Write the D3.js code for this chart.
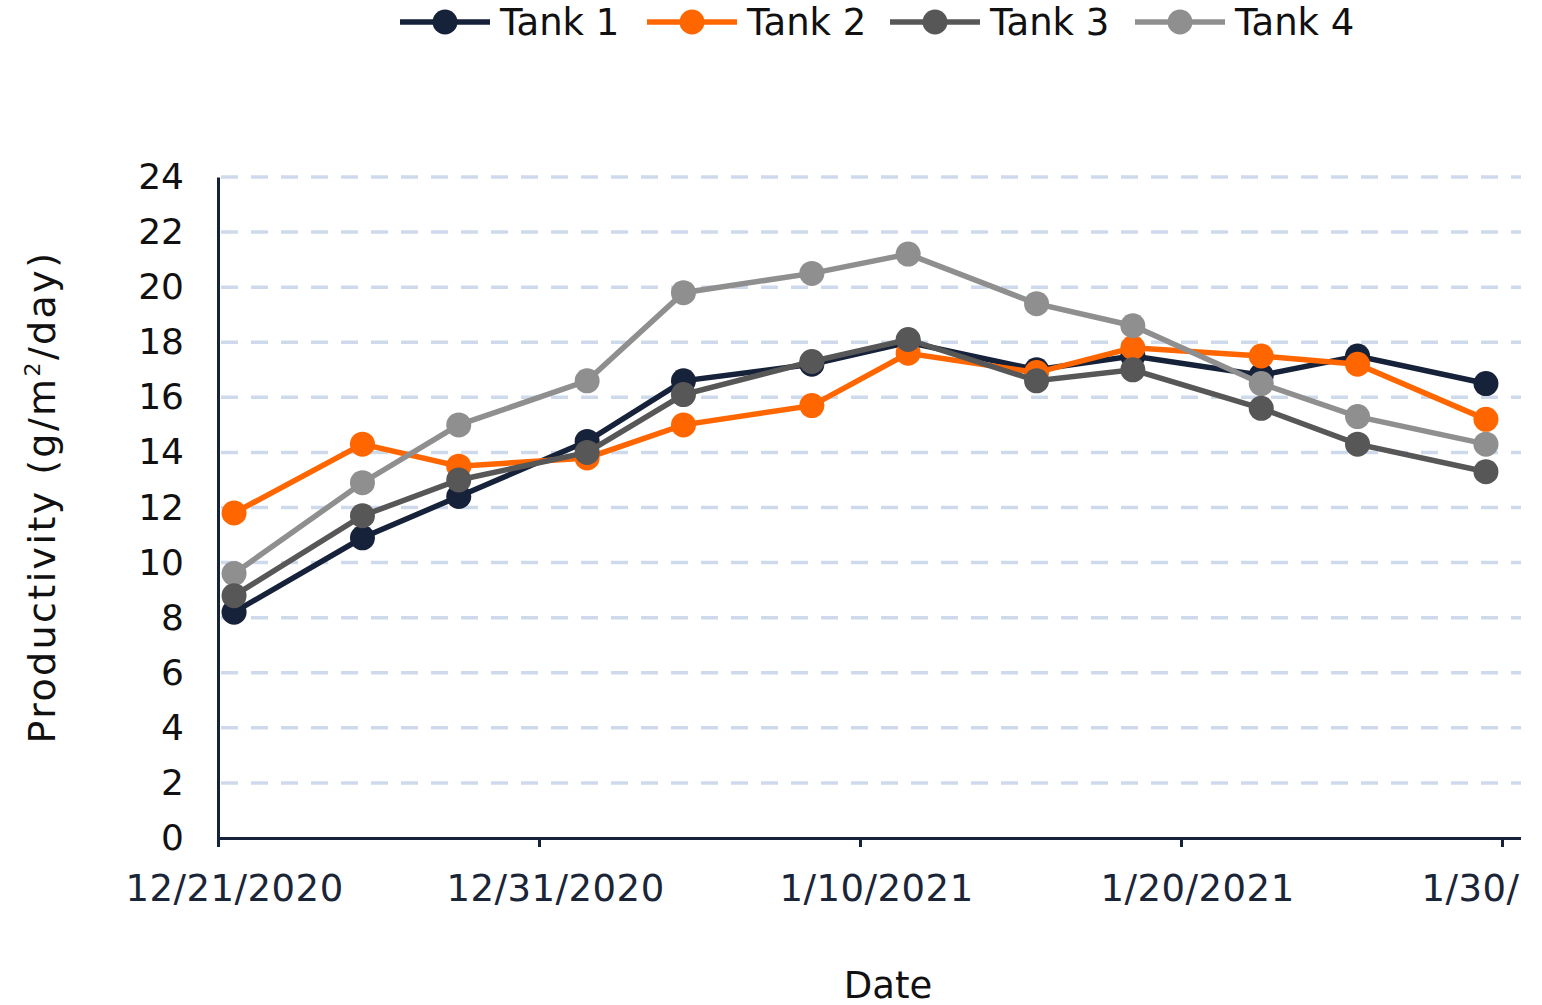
<!DOCTYPE html>
<html>
<head>
<meta charset="utf-8">
<script src="https://cdn.jsdelivr.net/npm/d3@7"></script>
<style>
  body { margin: 0; background: #fff; }
  svg { display: block; font-family: "DejaVu Sans", sans-serif; }
</style>
</head>
<body>
<div id="chart"></div>
<script>
// Sampling dates (points sit at midday)
const dates = ['2020-12-21', '2020-12-25', '2020-12-28', '2021-01-01', '2021-01-04', '2021-01-08',
  '2021-01-11', '2021-01-15', '2021-01-18', '2021-01-22', '2021-01-25', '2021-01-29'];

const seriesNames = ['Tank 1', 'Tank 2', 'Tank 3', 'Tank 4'];
const tank1 = [8.2, 10.9, 12.4, 14.4, 16.6, 17.2, 18.0, 17.0, 17.5, 16.8, 17.5, 16.5];
const tank2 = [11.8, 14.3, 13.5, 13.8, 15.0, 15.7, 17.6, 16.9, 17.8, 17.5, 17.2, 15.2];
const tank3 = [8.8, 11.7, 13.0, 14.0, 16.1, 17.3, 18.1, 16.6, 17.0, 15.6, 14.3, 13.3];
const tank4 = [9.6, 12.9, 15.0, 16.6, 19.8, 20.5, 21.2, 19.4, 18.6, 16.5, 15.3, 14.3];
const colors = ['#16213a', '#ff6600', '#575757', '#8f8f8f'];

const yTicks = [0, 2, 4, 6, 8, 10, 12, 14, 16, 18, 20, 22, 24];
const xTicks = ['2020-12-21', '2020-12-31', '2021-01-10', '2021-01-20', '2021-01-30'];

const W = 1542, H = 1005;
const margin = {top: 177, left: 218, bottom: 167};

const parse = d3.timeParse('%Y-%m-%d');
const fmt = d3.timeFormat('%-m/%-d/%Y');
const noon = d => d3.timeHour.offset(parse(d), 12);

const svg = d3.select('#chart').append('svg')
  .attr('width', W)
  .attr('height', H);

// everything right of the plot edge is cut off, as in the source figure
svg.append('clipPath').attr('id', 'cut')
  .append('rect').attr('x', 0).attr('y', 0).attr('width', 1521).attr('height', H);

const g = svg.append('g').attr('clip-path', 'url(#cut)');

const x = d3.scaleTime()
  .domain([parse('2020-12-21'), parse('2021-01-31')])
  .range([margin.left, margin.left + 41 * 32.1]);

const y = d3.scaleLinear()
  .domain([0, 24])
  .range([H - margin.bottom, margin.top]);

// half a day in pixels: date labels sit in the middle of their day
const halfDay = x(noon('2020-12-21')) - x(parse('2020-12-21'));

// Gridlines
g.append('g')
  .selectAll('line')
  .data(yTicks.filter(d => d > 0))
  .join('line')
  .attr('x1', margin.left + 3)
  .attr('x2', 1521)
  .attr('y1', d => y(d))
  .attr('y2', d => y(d))
  .attr('stroke', '#cfd9ec')
  .attr('stroke-width', 3.5)
  .attr('stroke-dasharray', '17 13');

// Y axis
const yAxis = d3.axisLeft(y).tickValues(yTicks).tickSize(0).tickPadding(34);
const yAxisGroup = g.append('g')
  .attr('transform', `translate(${margin.left}, 0)`)
  .call(yAxis);
yAxisGroup.select('.domain').attr('stroke', '#16213a').attr('stroke-width', 3);
yAxisGroup.selectAll('text')
  .attr('font-size', 36)
  .attr('fill', '#111')
  .attr('font-family', '"DejaVu Sans", sans-serif');

// X axis
const xAxis = d3.axisBottom(x)
  .tickValues(xTicks.map(parse))
  .tickFormat(fmt)
  .tickSize(9)
  .tickSizeOuter(0)
  .tickPadding(28);
const xAxisGroup = g.append('g')
  .attr('transform', `translate(0, ${y(0)})`)
  .call(xAxis);
xAxisGroup.select('.domain').attr('stroke', '#16213a').attr('stroke-width', 3);
xAxisGroup.selectAll('.tick line').attr('stroke', '#16213a').attr('stroke-width', 3);
xAxisGroup.selectAll('text')
  .attr('x', halfDay)
  .attr('font-size', 37)
  .attr('letter-spacing', 0.5)
  .attr('fill', '#1b2538')
  .attr('font-family', '"DejaVu Sans", sans-serif');

// Series
const tanks = [tank1, tank2, tank3, tank4];
const drawOrder = [0, 1, 3, 2];
const line = d3.line().x(d => x(d.date)).y(d => y(d.value));

drawOrder.forEach(i => {
  const pts = dates.map((d, j) => ({date: noon(d), value: tanks[i][j]}));
  const s = g.append('g');
  s.append('path')
    .datum(pts)
    .attr('fill', 'none')
    .attr('stroke', colors[i])
    .attr('stroke-width', 5.5)
    .attr('d', line);
  s.selectAll('circle')
    .data(pts)
    .join('circle')
    .attr('cx', d => x(d.date))
    .attr('cy', d => y(d.value))
    .attr('r', 12.5)
    .attr('fill', colors[i]);
});

// Axis titles
svg.append('text')
  .attr('transform', `translate(55, 497) rotate(-90)`)
  .attr('text-anchor', 'middle')
  .attr('font-size', 38)
  .attr('letter-spacing', 2.4)
  .attr('fill', '#111')
  .call(t => {
    t.append('tspan').text('Productivity (g/m');
    t.append('tspan').attr('font-size', 22).attr('dy', -15).text('2');
    t.append('tspan').attr('dy', 15).text('/day)');
  });

svg.append('text')
  .attr('x', 888)
  .attr('y', 998)
  .attr('text-anchor', 'middle')
  .attr('font-size', 37)
  .attr('fill', '#111')
  .text('Date');

// Legend
const legendX = [400, 647, 890, 1135];
const legend = svg.append('g')
  .selectAll('g')
  .data(seriesNames)
  .join('g')
  .attr('transform', (d, i) => `translate(${legendX[i]}, 22)`);
legend.append('line')
  .attr('x1', 0).attr('x2', 90)
  .attr('stroke', (d, i) => colors[i])
  .attr('stroke-width', 5.5);
legend.append('circle')
  .attr('cx', 45).attr('r', 12.5)
  .attr('fill', (d, i) => colors[i]);
legend.append('text')
  .attr('x', 100)
  .attr('dy', '0.36em')
  .attr('font-size', 37)
  .attr('fill', '#111')
  .text(d => d);
</script>
</body>
</html>
